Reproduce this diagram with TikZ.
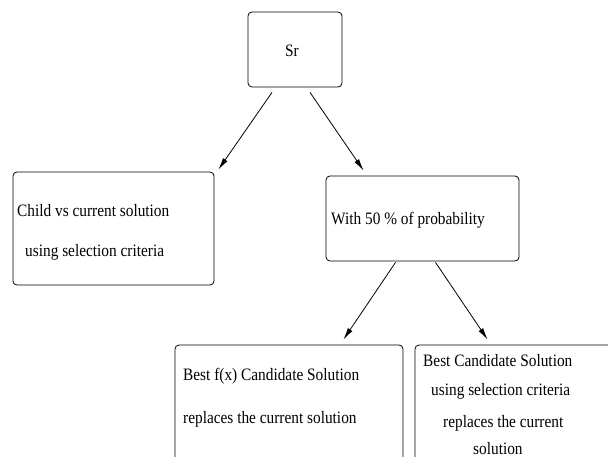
\documentclass[tikz,border=0pt]{standalone}
\usepackage{fontspec}
\setmainfont{Liberation Serif}[FakeStretch=0.88]
\usetikzlibrary{arrows.meta}
\begin{document}
\begin{tikzpicture}[x=1bp,y=-1bp,
  box/.style={draw, line width=0.8bp, rounded corners=4bp, inner sep=0pt},
  txt/.style={anchor=base west, inner sep=0pt, font=\fontsize{17.5}{20}\selectfont},
  arr/.style={-{Latex[length=12bp,width=5.5bp]}, line width=0.8bp}]
\useasboundingbox (0,0) rectangle (608,457);
\clip (0,0) rectangle (608,457);
% boxes
\node[box, minimum width=94bp, minimum height=75bp] (sr) at (295,49.5) {};
\node[box, minimum width=201bp, minimum height=113bp] (child) at (113.5,228.5) {};
\node[box, minimum width=193bp, minimum height=85bp] (prob) at (422.5,218.5) {};
\node[box, minimum width=228bp, minimum height=140bp] (bestf) at (289,415) {};
\node[box, minimum width=210bp, minimum height=140bp] (bestc) at (520,415) {};
% texts
\node[txt] (tsr) at (285,57) {Sr};
\node[txt] (tc1) at (17,217) {Child vs current solution};
\node[txt] (tc2) at (25,257) {using selection criteria};
\node[txt] (tp) at (331,225) {With 50 \% of probability};
\node[txt] (tf1) at (183,380) {Best f(x) Candidate Solution};
\node[txt] (tf2) at (183,423) {replaces the current solution};
\node[txt] (tb1) at (423,366) {Best Candidate Solution};
\node[txt] (tb2) at (431,395) {using selection criteria};
\node[txt] (tb3) at (443,427) {replaces the current};
\node[txt] (tb4) at (473,454) {solution};
% connectors
\draw[arr] ([xshift=-23bp,yshift=-5bp]sr.south) -- ([xshift=4bp,yshift=2bp]child.north east);
\draw[arr] ([xshift=15bp,yshift=-5bp]sr.south) -- ([xshift=38bp,yshift=5bp]prob.north west);
\draw[arr] ([xshift=-27bp,yshift=-1bp]prob.south) -- ([xshift=-60bp,yshift=5bp]bestf.north east);
\draw[arr] ([xshift=13bp,yshift=-1bp]prob.south) -- ([xshift=73bp,yshift=5bp]bestc.north west);
\end{tikzpicture}
\end{document}
